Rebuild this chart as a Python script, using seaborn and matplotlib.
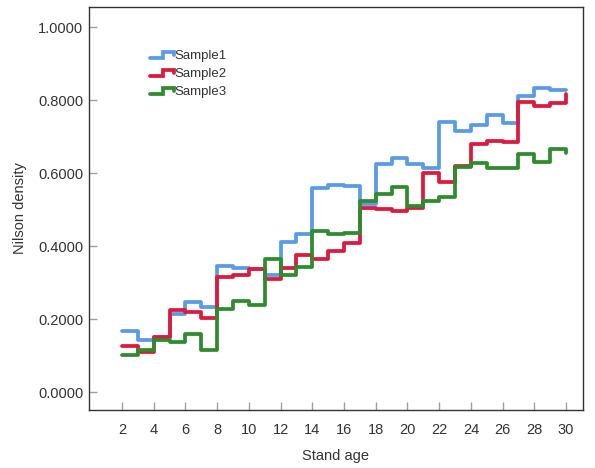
import numpy as np
import pandas as pd
import matplotlib
matplotlib.use("Agg")
import matplotlib.pyplot as plt
import seaborn as sns
from matplotlib.lines import Line2D
from matplotlib.legend_handler import HandlerBase

# ---- data ----
stand_age = list(range(2, 31))
sample1 = [0.168, 0.144, 0.150, 0.214, 0.247, 0.232, 0.345, 0.340, 0.336, 0.320,
           0.410, 0.433, 0.558, 0.567, 0.564, 0.515, 0.626, 0.640, 0.625, 0.613,
           0.740, 0.716, 0.732, 0.758, 0.738, 0.810, 0.832, 0.827, 0.827]
sample2 = [0.126, 0.110, 0.152, 0.225, 0.220, 0.202, 0.316, 0.322, 0.336, 0.310,
           0.341, 0.375, 0.366, 0.386, 0.409, 0.503, 0.502, 0.497, 0.503, 0.601,
           0.576, 0.619, 0.680, 0.688, 0.684, 0.794, 0.784, 0.792, 0.818]
sample3 = [0.101, 0.115, 0.142, 0.138, 0.158, 0.116, 0.227, 0.249, 0.240, 0.364,
           0.320, 0.342, 0.442, 0.432, 0.436, 0.523, 0.543, 0.561, 0.510, 0.524,
           0.535, 0.616, 0.628, 0.613, 0.614, 0.652, 0.631, 0.665, 0.655]
series_names = ["Sample1", "Sample2", "Sample3"]
colors = ["#5A9BE6", "#DC1A3E", "#2E8B2E"]
x_ticks = list(range(2, 31, 2))
y_ticks = [0.0, 0.2, 0.4, 0.6, 0.8, 1.0]

df = pd.DataFrame({
    "Stand age": stand_age * 3,
    "Nilson density": sample1 + sample2 + sample3,
    "sample": sum([[n] * len(stand_age) for n in series_names], []),
})

sns.set_theme(style="white")
plt.rcParams["font.family"] = ["Liberation Sans", "DejaVu Sans"]

fig = plt.figure(figsize=(5.95, 4.68), dpi=100)
ax = fig.add_axes([89 / 595, 58 / 468, 494 / 595, 403 / 468])

sns.lineplot(data=df, x="Stand age", y="Nilson density", hue="sample",
             palette=dict(zip(series_names, colors)), drawstyle="steps-post",
             linewidth=2.7, estimator=None, errorbar=None, legend=False, ax=ax)


class StepHandler(HandlerBase):
    def create_artists(self, legend, orig_handle, xdescent, ydescent, width,
                       height, fontsize, trans):
        x0 = -xdescent
        x1 = x0 + width
        yl = -ydescent + height * 0.1
        yh = -ydescent + height * 0.8
        xm = x0 + width * 0.55
        xs = [x0, xm, xm, x1, x1]
        ys = [yl, yl, yh, yh, yh - height * 0.35]
        ln = Line2D(xs, ys, color=orig_handle.get_color(),
                    lw=orig_handle.get_linewidth(), solid_joinstyle="miter")
        ln.set_transform(trans)
        return [ln]


handles = [Line2D([0], [0], color=c, lw=2.7) for c in colors]
ax.legend(handles, series_names, handler_map={Line2D: StepHandler()},
          loc="upper left", bbox_to_anchor=(0.123, 0.893), frameon=False,
          fontsize=9.5, handlelength=1.8, handletextpad=0.05, labelspacing=0.42,
          borderpad=0, borderaxespad=0, labelcolor="#333333")

ax.set_xlim(-0.08, 31.07)
ax.set_ylim(-0.049, 1.055)
ax.set_xticks(x_ticks)
ax.set_xticklabels([str(t) for t in x_ticks])
ax.set_yticks(y_ticks)
ax.set_yticklabels([f"{t:.4f}" for t in y_ticks])
ax.tick_params(axis="both", direction="in", length=6, width=1, color="#A0A0A0",
               labelsize=10.5, labelcolor="#333333", bottom=True, left=True)
ax.tick_params(axis="x", pad=9)
ax.tick_params(axis="y", pad=4)
ax.set_xlabel("Stand age", fontsize=10.5, color="#333333", labelpad=9)
ax.set_ylabel("Nilson density", fontsize=10.5, color="#333333", labelpad=8)
for s in ax.spines.values():
    s.set_color("#333333")
    s.set_linewidth(1.0)
    s.set_visible(True)

fig.savefig("out.png", dpi=100)
